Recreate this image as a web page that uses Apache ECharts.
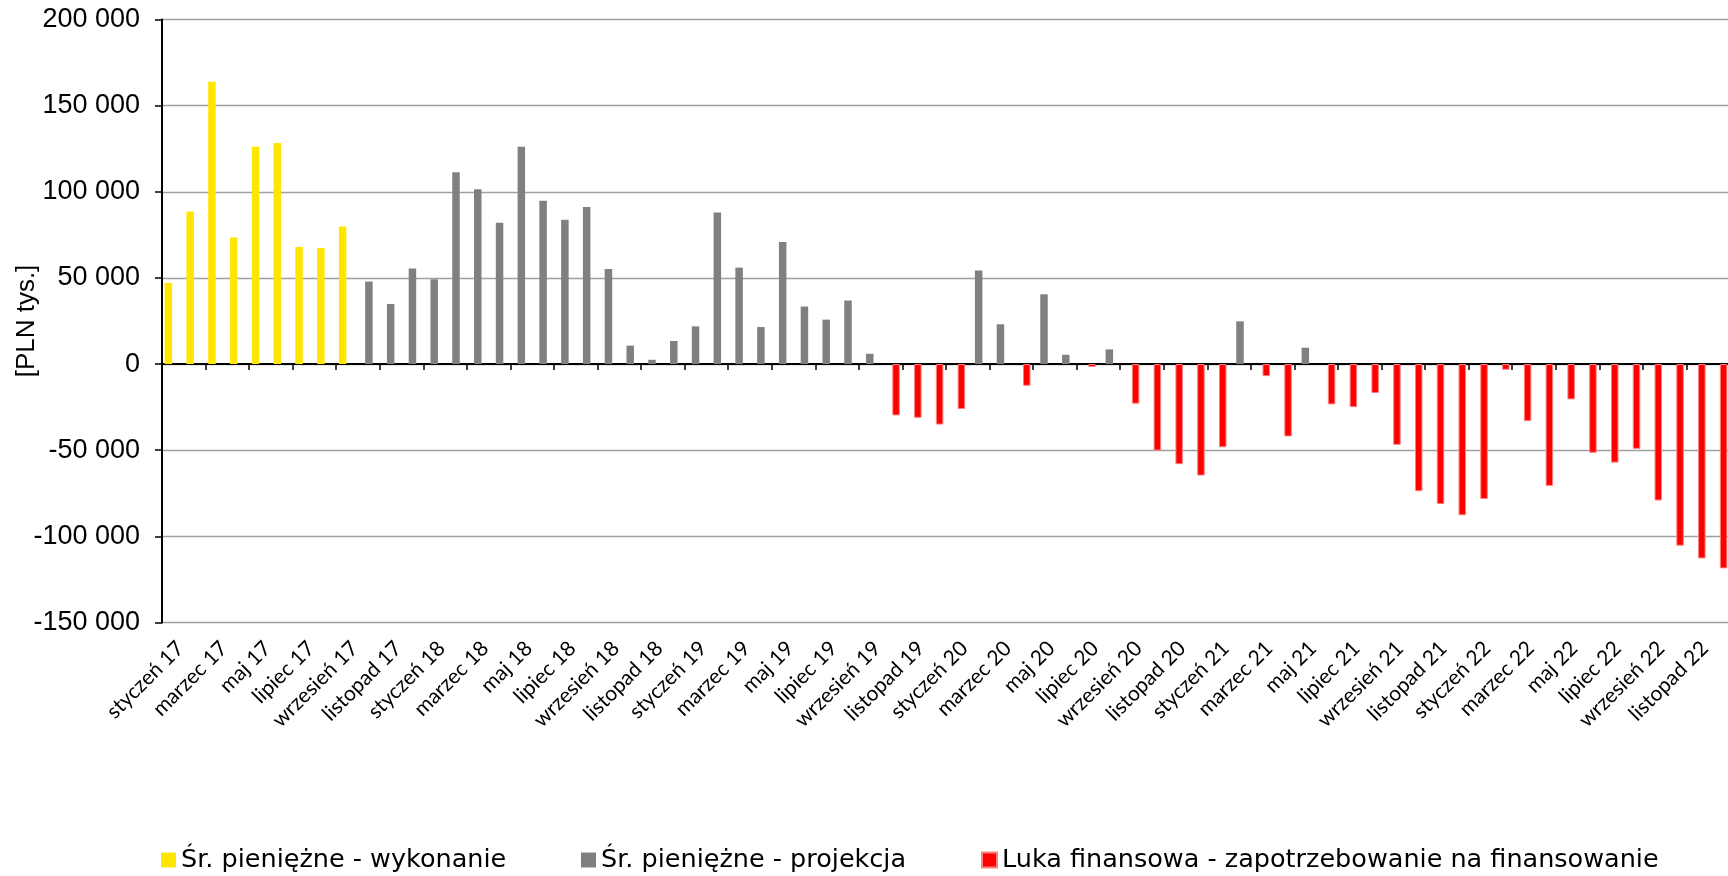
<!DOCTYPE html>
<html>
<head>
<meta charset="utf-8">
<script src="https://cdn.jsdelivr.net/npm/echarts@6/dist/echarts.min.js"></script>
<style>
html,body{margin:0;padding:0;background:#fff;}
#chart{width:1728px;height:876px;}
</style>
</head>
<body>
<div id="chart"></div>
<script>
const monthNames = ['styczeń','luty','marzec','kwiecień','maj','czerwiec','lipiec','sierpień','wrzesień','październik','listopad','grudzień'];
const years = ['17','18','19','20','21','22'];
const categories = [];
years.forEach(y => monthNames.forEach(m => categories.push(m + ' ' + y)));

// Śr. pieniężne - wykonanie (PLN tys.) – styczeń 17 .. wrzesień 17
const executionValues = [47100, 88600, 163800, 73500, 126200, 128300, 68000, 67300, 79900];

// Śr. pieniężne - projekcja: [category index, value]
const projectionPoints = [
  [9, 47900], [10, 34900], [11, 55500], [12, 49200], [13, 111300], [14, 101400],
  [15, 82000], [16, 126200], [17, 94800], [18, 83700], [19, 91100], [20, 55200],
  [21, 10700], [22, 2500], [23, 13400], [24, 21900], [25, 88000], [26, 56000],
  [27, 21500], [28, 70800], [29, 33400], [30, 25800], [31, 36900], [32, 6000],
  [37, 54300], [38, 23100], [40, 40500], [41, 5400], [43, 8500], [49, 24800], [52, 9500]
];

// Luka finansowa - zapotrzebowanie na finansowanie: [category index, value]
const gapPoints = [
  [33, -29800], [34, -31200], [35, -35100], [36, -26100], [39, -12600], [42, -1700],
  [44, -23000], [45, -50200], [46, -58100], [47, -64700], [48, -48300], [50, -7000],
  [51, -42000], [53, -23400], [54, -25000], [55, -16800], [56, -46900], [57, -73800],
  [58, -81200], [59, -87800], [60, -78300], [61, -3300], [62, -33100], [63, -70700],
  [64, -20500], [65, -51500], [66, -57200], [67, -49200], [68, -79200], [69, -105400],
  [70, -112800], [71, -118600]
];

const seriesNames = ['Śr. pieniężne - wykonanie', 'Śr. pieniężne - projekcja', 'Luka finansowa - zapotrzebowanie na finansowanie'];
const yTicks = { min: -150000, max: 200000, interval: 50000 };

function fullSeries(points) {
  const arr = categories.map(() => null);
  points.forEach(([i, v]) => { arr[i] = v; });
  return arr;
}
const execData = categories.map((c, i) => i < executionValues.length ? executionValues[i] : null);
const projData = fullSeries(projectionPoints);
const gapData = fullSeries(gapPoints);

function fmt(v) {
  const s = String(Math.abs(v)).replace(/\B(?=(\d{3})+(?!\d))/g, ' ');
  return (v < 0 ? '-' : '') + s;
}

const legendFont = 'DejaVu Sans';
const catFont = 'Lato';
const numFont = 'Liberation Sans';

const chart = echarts.init(document.getElementById('chart'), null, { renderer: 'canvas' });
const legendCommon = {
  orient: 'horizontal', padding: 0, top: 845, itemWidth: 15, itemHeight: 15,
  icon: 'rect', selectedMode: false,
  textStyle: { fontFamily: legendFont, fontSize: 25.5, color: '#000', lineHeight: 30 }
};
chart.setOption({
  animation: false,
  backgroundColor: '#fff',
  grid: { left: 162, top: 19.5, width: 1568, height: 603, containLabel: false, outerBoundsMode: 'none' },
  legend: [
    Object.assign({ data: [seriesNames[0]], left: 161 }, legendCommon),
    Object.assign({ data: [seriesNames[1]], left: 581 }, legendCommon),
    Object.assign({ data: [seriesNames[2]], left: 981 }, legendCommon)
  ],
  xAxis: [
    {
      type: 'category', data: categories, boundaryGap: true,
      axisLine: { onZero: true, lineStyle: { color: '#000', width: 2 } },
      axisTick: { show: true, interval: 1, length: 6, lineStyle: { color: '#000', width: 1.5 } },
      axisLabel: { show: false },
      splitLine: { show: false }
    },
    {
      type: 'category', data: categories, boundaryGap: true, position: 'bottom',
      axisLine: { show: false, onZero: false },
      axisTick: { show: false },
      axisLabel: {
        show: true, interval: 1, rotate: 45, margin: 15,
        align: 'right', verticalAlign: 'top',
        fontFamily: catFont, fontSize: 21, lineHeight: 21, color: '#000'
      },
      splitLine: { show: false }
    }
  ],
  yAxis: {
    type: 'value', min: yTicks.min, max: yTicks.max, interval: yTicks.interval,
    name: '[PLN tys.]', nameLocation: 'middle', nameRotate: 90, nameGap: 122, nameMoveOverlap: false,
    nameTextStyle: { fontFamily: numFont, fontSize: 26, color: '#000' },
    axisLine: { show: true, lineStyle: { color: '#000', width: 2 } },
    axisTick: { show: true, length: 7, lineStyle: { color: '#000', width: 1.5 } },
    axisLabel: { formatter: fmt, margin: 22, fontFamily: numFont, fontSize: 27, color: '#000' },
    splitLine: { show: true, lineStyle: { color: '#A0A0A0', width: 1.3 } }
  },
  series: [
    { name: seriesNames[0], type: 'bar', data: execData, xAxisIndex: 0, barWidth: 7.5, barGap: '-40%',
      itemStyle: { color: '#FFE600' } },
    { name: seriesNames[1], type: 'bar', data: projData, xAxisIndex: 0, barWidth: 7.5, barGap: '-40%',
      itemStyle: { color: '#808080' } },
    { name: seriesNames[2], type: 'bar', data: gapData, xAxisIndex: 0, barWidth: 7.5, barGap: '-40%',
      itemStyle: { color: '#FF0000', borderColor: '#FF8080', borderWidth: 1 } }
  ]
});
</script>
</body>
</html>
